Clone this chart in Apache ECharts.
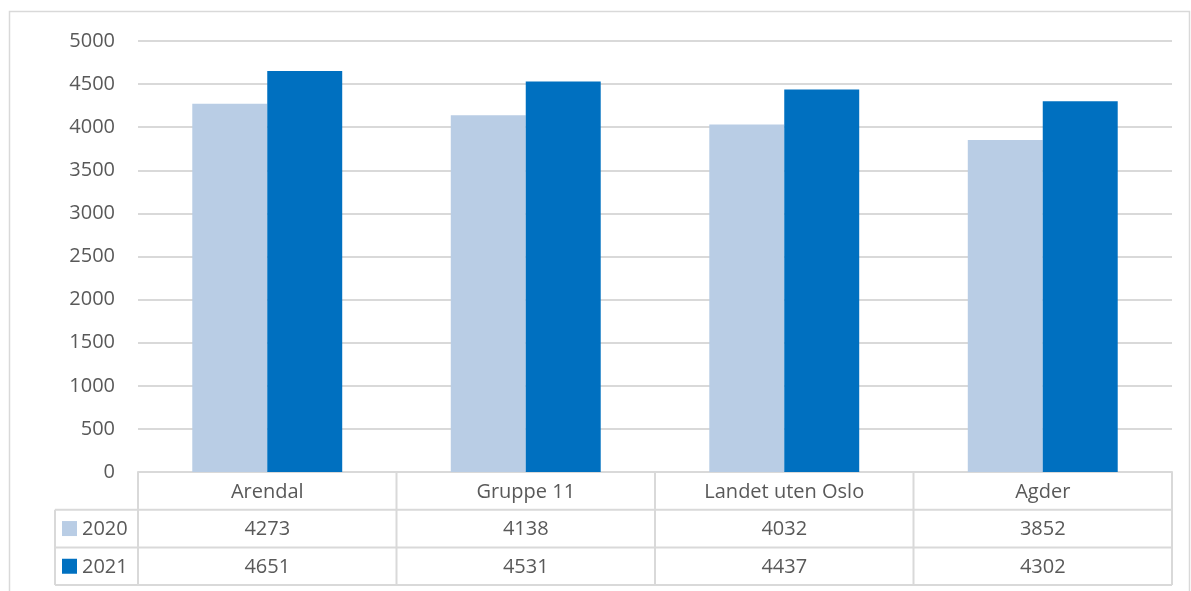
<!DOCTYPE html>
<html><head><meta charset="utf-8">
<script src="https://cdn.jsdelivr.net/npm/echarts@6/dist/echarts.min.js"></script>
<style>html,body{margin:0;padding:0;background:#fff}#c{width:1191px;height:591px}</style>
</head><body><div id="c"></div>
<script>
const categories = ['Arendal', 'Gruppe 11', 'Landet uten Oslo', 'Agder'];
const seriesNames = ['2020', '2021'];
const values2020 = [4273, 4138, 4032, 3852];
const values2021 = [4651, 4531, 4437, 4302];
const colors = ['#B9CDE5', '#0070C0'];

const FONT = 'Open Sans';
const TXT = '#595959';
const LINE = '#D9D9D9';

const chart = echarts.init(document.getElementById('c'));
chart.setOption({
  animation: false,
  grid: { left: 138, right: 19, top: 41, bottom: 119, containLabel: false },
  xAxis: {
    type: 'category', data: categories,
    axisLine: { show: true, lineStyle: { color: LINE, width: 2 } },
    axisTick: { show: false }, axisLabel: { show: false }
  },
  yAxis: {
    type: 'value', min: 0, max: 5000, interval: 500,
    axisLine: { show: false }, axisTick: { show: false },
    axisLabel: { color: TXT, fontFamily: FONT, fontSize: 20, margin: 23, formatter: v => String(v) },
    splitLine: { lineStyle: { color: LINE, width: 2 } }
  },
  series: [
    { name: seriesNames[0], type: 'bar', data: values2020, itemStyle: { color: colors[0] }, barGap: '0%', barCategoryGap: '42%' },
    { name: seriesNames[1], type: 'bar', data: values2021, itemStyle: { color: colors[1] }, barGap: '0%', barCategoryGap: '42%' }
  ]
});

function drawTable() {
  const c0 = chart.convertToPixel({ xAxisIndex: 0 }, 0);
  const c1 = chart.convertToPixel({ xAxisIndex: 0 }, 1);
  const cw = c1 - c0;
  const left = c0 - cw / 2;
  const right = left + cw * categories.length;
  const base = chart.convertToPixel({ yAxisIndex: 0 }, 0);
  const rh = 37.7;
  const legLeft = 55;
  const els = [];
  const line = (x1, y1, x2, y2) => els.push({ type: 'line', shape: { x1, y1, x2, y2 }, style: { stroke: LINE, lineWidth: 2 }, silent: true });
  const text = (x, y, t, align) => els.push({ type: 'text', x, y, style: { text: t, fill: TXT, font: '20px "' + FONT + '"', align: align || 'center', verticalAlign: 'middle' }, silent: true });
  els.push({ type: 'rect', shape: { x: 9.5, y: 11.5, width: 1180, height: 600 }, style: { fill: null, stroke: LINE, lineWidth: 1.5 }, silent: true });
  line(left, base + rh, right, base + rh);
  line(legLeft, base + rh, left, base + rh);
  line(legLeft, base + 2 * rh, right, base + 2 * rh);
  line(legLeft, base + 3 * rh, right, base + 3 * rh);
  line(legLeft, base + rh, legLeft, base + 3 * rh);
  for (let i = 0; i <= categories.length; i++) {
    const x = left + cw * i;
    line(x, base, x, base + 3 * rh);
  }
  categories.forEach((cat, i) => {
    const cx = chart.convertToPixel({ xAxisIndex: 0 }, i);
    text(cx, base + rh / 2 + 1, cat);
    text(cx, base + rh * 1.5 + 1, String(values2020[i]));
    text(cx, base + rh * 2.5 + 1, String(values2021[i]));
  });
  seriesNames.forEach((n, j) => {
    const cy = base + rh * (1.5 + j);
    els.push({ type: 'rect', shape: { x: 62, y: cy - 7.5, width: 15, height: 15 }, style: { fill: colors[j] }, silent: true });
    text(82, cy + 1, n, 'left');
  });
  chart.setOption({ graphic: { elements: els } });
}
drawTable();
</script></body></html>
